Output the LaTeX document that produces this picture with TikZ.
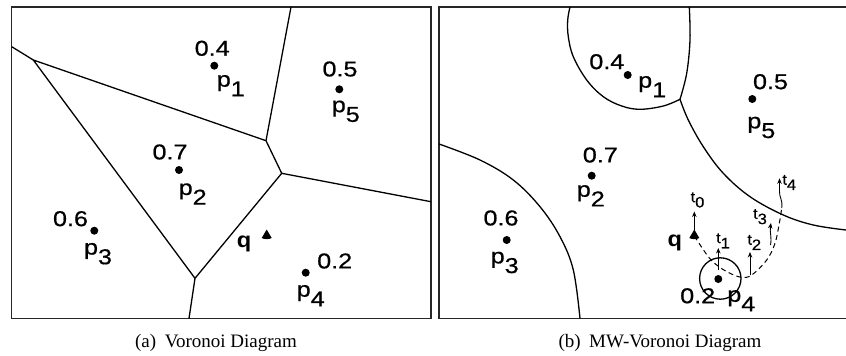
\documentclass[tikz,border=0pt]{standalone}
\usepackage{fontspec}
\setmainfont{Liberation Serif}
\newfontfamily\labfont[FakeBold=0.6]{Liberation Sans}
\newfontfamily\labfontb{Liberation Sans}
\usetikzlibrary{arrows.meta}
\newcommand\mysubp[1]{p\raisebox{-0.45em}{#1}}
\newcommand\mysubt[1]{t\raisebox{-0.35em}{#1}}
\tikzset{
  frame/.style={line width=1.7pt, draw=black!85},
  vedge/.style={line width=1.3pt},
  site/.style={circle, fill=black, inner sep=0pt, minimum size=8pt},
  lab/.style={font=\labfont\fontsize{21.5}{21.5}\selectfont, inner sep=0pt, xscale=1.17},
  qlab/.style={font=\labfontb\bfseries\fontsize{21.5}{21.5}\selectfont, inner sep=0pt, xscale=1.1},
  tlab/.style={font=\labfont\fontsize{15}{15}\selectfont, inner sep=0pt, xscale=1.1},
  tarrow/.style={line width=0.9pt, -{Stealth[length=5.5pt,width=4.5pt]}},
  dashcurve/.style={line width=1pt, dash pattern=on 5pt off 3.5pt},
  captext/.style={font=\fontsize{19}{19}\selectfont, anchor=base, inner sep=0pt}
}
\begin{document}
\begin{tikzpicture}[x=1pt,y=-1pt]
\useasboundingbox (0,0) rectangle (846,356);
% ---------- left panel ----------
\draw[frame] (11.5,7) rectangle (431,318.5);
\coordinate (A) at (33.3,60);
\coordinate (B) at (266,140.7);
\coordinate (C) at (281.7,173.3);
\coordinate (D) at (195,278.3);
\coordinate (eA) at (11.7,46.7);
\coordinate (eB) at (291,7);
\coordinate (eC) at (431,201.7);
\coordinate (eD) at (189,318.5);
\draw[vedge, line join=round] (A) -- (B) -- (C) -- (D) -- cycle;
\draw[vedge] (eA) -- (A);
\draw[vedge] (B) -- (eB);
\draw[vedge] (C) -- (eC);
\draw[vedge] (D) -- (eD);

\node[site] (lp1) at (214.3,65.7) {};
\node[site] (lp5) at (339.3,89.3) {};
\node[site] (lp2) at (179,170) {};
\node[site] (lp3) at (94.3,230.7) {};
\node[site] (lp4) at (305.7,272.7) {};
\node[lab] (lw1) at (212.2,48.3) {0.4};
\node[lab] (ln1) at (230.8,85.7) {\mysubp{1}};
\node[lab] (lw5) at (340,69) {0.5};
\node[lab] (ln5) at (345.8,111.3) {\mysubp{5}};
\node[lab] (lw2) at (170,152) {0.7};
\node[lab] (ln2) at (192.7,194) {\mysubp{2}};
\node[lab] (lw3) at (70.5,218.7) {0.6};
\node[lab] (ln3) at (98,253.7) {\mysubp{3}};
\node[lab] (lw4) at (334.7,261) {0.2};
\node[lab] (ln4) at (310.7,295.7) {\mysubp{4}};
\node[qlab] (lq) at (244,244) {q};
\coordinate (lqm) at (266.7,235);
\fill[shift={(lqm)}] (-5,3) -- (0,-5.5) -- (5,3) .. controls (2.5,4.5) and (-2.5,4.5) .. cycle;

% ---------- right panel ----------
\draw[frame] (846,7) -- (439,7) -- (439,318.5) -- (846,318.5);
\draw[vedge] plot[smooth, tension=0.6] coordinates {(570,7) (567.7,20) (568.3,36.7) (573.3,56.7) (586.7,80) (603.3,96.7) (621.7,106) (640,109.3) (663.3,106) (680,99.3)};
\draw[vedge] plot[smooth, tension=0.6] coordinates {(680,99.3) (686.7,73.3) (690,40) (689.3,7)};
\draw[vedge] plot[smooth, tension=0.6] coordinates {(680,99.3) (688.3,120) (703.3,146.7) (723.3,173.3) (750,196.7) (783.3,215) (813.3,225) (846,230)};
\draw[vedge] plot[smooth, tension=0.6] coordinates {(439,144) (480,160) (513.3,180) (540,206.7) (560,236.7) (573.3,270) (580,318.5)};

\node[site] (rp1) at (627.7,75) {};
\node[site] (rp5) at (752.3,99) {};
\node[site] (rp2) at (591.7,175.7) {};
\node[site] (rp3) at (506.7,240) {};
\node[site] (rp4) at (718.3,279) {};
\node[lab] (rw1) at (606.8,61.7) {0.4};
\node[lab] (rn1) at (652.2,86.7) {\mysubp{1}};
\node[lab] (rw5) at (770.5,81.7) {0.5};
\node[lab] (rn5) at (761.3,127.5) {\mysubp{5}};
\node[lab] (rw2) at (600.3,155) {0.7};
\node[lab] (rn2) at (590.8,195.8) {\mysubp{2}};
\node[lab] (rw3) at (501,218) {0.6};
\node[lab] (rn3) at (504.7,262.5) {\mysubp{3}};
\node[lab] (rw4) at (697.7,295.8) {0.2};
\node[lab] (rn4) at (741.3,300.8) {\mysubp{4}};
\node[qlab] (rq) at (674.8,243.3) {q};
\coordinate (rqm) at (694.3,235);
\fill[shift={(rqm)}] (-5,3) -- (0,-5.5) -- (5,3) .. controls (2.5,4.5) and (-2.5,4.5) .. cycle;

% circle around p4
\draw[vedge] (rp4.center) ++(2,-0.5) circle (20.7);

% dashed path of q
\draw[dashcurve] plot[smooth, tension=0.6] coordinates {(694.3,236) (708.3,256.7) (718,266) (730,273.3) (741.7,277.3) (751.7,275) (766.7,260) (775,243.3) (779.3,223.3) (781.7,208)};

% arrows
\coordinate (t0a) at (694.3,233);  \coordinate (t0b) at (694.3,211.5);
\coordinate (t1a) at (718.3,270);  \coordinate (t1b) at (718.3,248);
\coordinate (t2a) at (750,275);    \coordinate (t2b) at (750,252);
\coordinate (t3a) at (770.5,245);  \coordinate (t3b) at (771,223);
\coordinate (t4a) at (781.7,208);  \coordinate (t4b) at (779.5,178.3);
\draw[tarrow] (t0a) -- (t0b);
\draw[tarrow] (t1a) -- (t1b);
\draw[tarrow] (t2a) -- (t2b);
\draw[tarrow] (t3a) .. controls (772,237) and (769.5,232) .. (t3b);
\draw[tarrow] (t4a) .. controls (783,200) and (779,197) .. (779.5,191) -- (t4b);
\node[tlab] (tl0) at (697.5,200) {\mysubt{0}};
\node[tlab] (tl1) at (723,240.8) {\mysubt{1}};
\node[tlab] (tl2) at (754.2,242.5) {\mysubt{2}};
\node[tlab] (tl3) at (760,216.7) {\mysubt{3}};
\node[tlab] (tl4) at (789.2,182.5) {\mysubt{4}};

% captions
\node[captext] (capa) at (216,347) {(a)\hspace{0.45em}Voronoi Diagram};
\node[captext] (capb) at (660,347) {(b)\hspace{0.45em}MW-Voronoi Diagram};
\end{tikzpicture}
\end{document}
